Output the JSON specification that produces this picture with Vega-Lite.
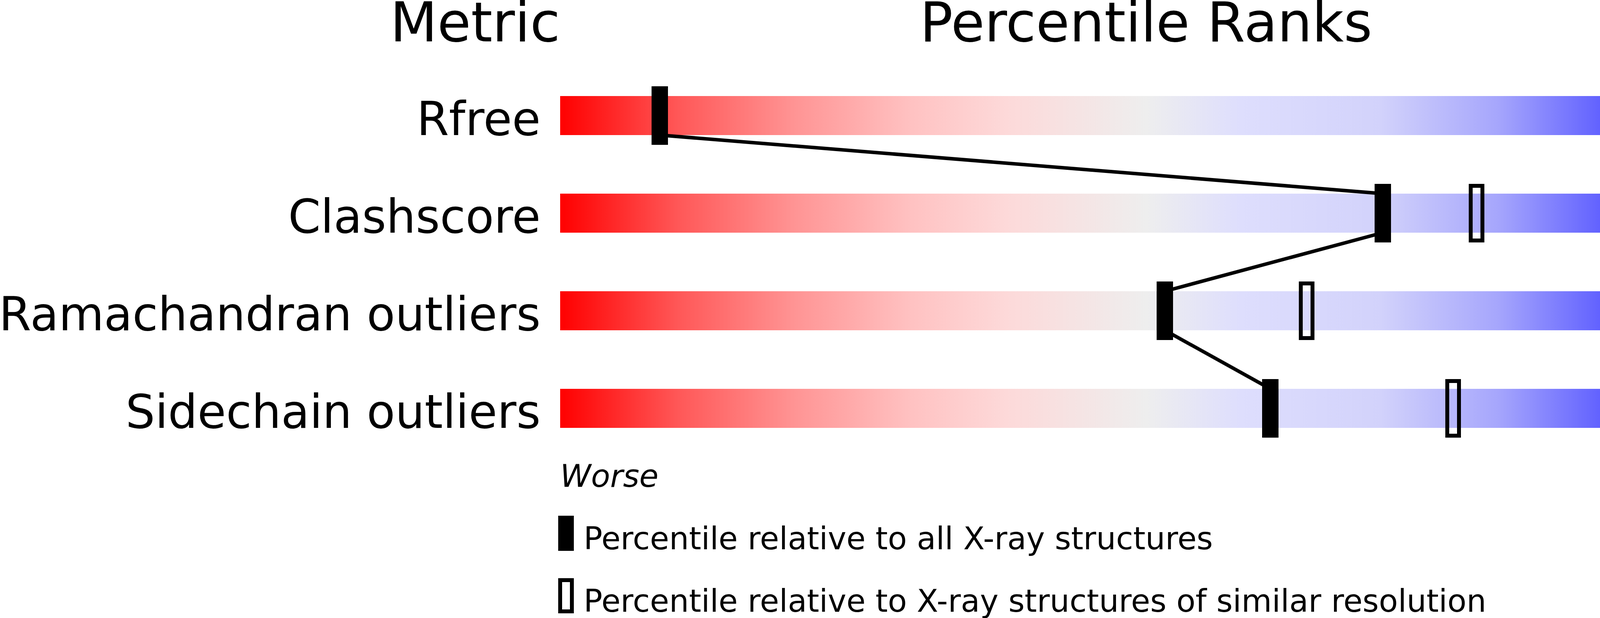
{
  "$schema": "https://vega.github.io/schema/vega-lite/v6.json",
  "width": 4823,
  "height": 1583,
  "autosize": "none",
  "padding": 0,
  "background": "white",
  "config": {"font": "DejaVu Sans", "view": {"stroke": null}},
  "datasets": {
    "metrics": [
      {"row": 0, "metric": "Rfree", "pct": 8.5, "pct_res": null, "value": "0.285"},
      {"row": 1, "metric": "Clashscore", "pct": 70.2, "pct_res": 78.2, "value": "4"},
      {"row": 2, "metric": "Ramachandran outliers", "pct": 51.6, "pct_res": 63.7, "value": "0.1%"},
      {"row": 3, "metric": "Sidechain outliers", "pct": 60.6, "pct_res": 76.2, "value": "1.7%"}
    ],
    "one": [{}]
  },
  "layer": [
    {
      "data": {"name": "metrics"},
      "mark": {
        "type": "rect",
        "opacity": 1,
        "yOffset": -50,
        "y2Offset": 50,
        "color": {
          "gradient": "linear",
          "x1": 0, "y1": 0, "x2": 1, "y2": 0,
          "stops": [
            {"offset": 0, "color": "#ff0000"},
            {"offset": 0.1, "color": "#ff5757"},
            {"offset": 0.2, "color": "#ff9494"},
            {"offset": 0.3, "color": "#ffc2c2"},
            {"offset": 0.38, "color": "#fdd9d9"},
            {"offset": 0.5, "color": "#eeeeee"},
            {"offset": 0.58, "color": "#dedefd"},
            {"offset": 0.7, "color": "#d2d2fb"},
            {"offset": 0.8, "color": "#a6a6fc"},
            {"offset": 0.9, "color": "#5858ff"},
            {"offset": 1, "color": "#0000ff"}
          ]
        }
      },
      "encoding": {
        "x": {"datum": 0, "type": "quantitative", "axis": null,
              "scale": {"domain": [-47.8, 112.9667], "nice": false, "zero": false}},
        "x2": {"datum": 100},
        "y": {"field": "row", "type": "quantitative", "axis": null,
              "scale": {"domain": [-1.184, 5.148], "reverse": true, "nice": false, "zero": false}},
        "y2": {"field": "row"}
      }
    },
    {
      "data": {"name": "metrics"},
      "transform": [
        {"window": [
          {"op": "lead", "field": "pct", "as": "next_pct"},
          {"op": "lead", "field": "row", "as": "next_row"}
        ], "sort": [{"field": "row"}]},
        {"filter": "datum.next_pct != null"}
      ],
      "mark": {"type": "rule", "color": "black", "strokeWidth": 9, "yOffset": 50, "y2Offset": -50},
      "encoding": {
        "x": {"field": "pct", "type": "quantitative"},
        "x2": {"field": "next_pct"},
        "y": {"field": "row", "type": "quantitative"},
        "y2": {"field": "next_row"}
      }
    },
    {
      "data": {"name": "metrics"},
      "mark": {"type": "rect", "color": "black", "opacity": 1,
               "xOffset": -21, "x2Offset": 21, "yOffset": -75, "y2Offset": 75},
      "encoding": {
        "x": {"field": "pct", "type": "quantitative"},
        "x2": {"field": "pct"},
        "y": {"field": "row", "type": "quantitative"},
        "y2": {"field": "row"}
      }
    },
    {
      "data": {"name": "metrics"},
      "transform": [{"filter": "datum.pct_res != null"}],
      "mark": {"type": "rect", "filled": false, "stroke": "black", "strokeWidth": 10, "opacity": 1,
               "xOffset": -15, "x2Offset": 15, "yOffset": -70, "y2Offset": 70},
      "encoding": {
        "x": {"field": "pct_res", "type": "quantitative"},
        "x2": {"field": "pct_res"},
        "y": {"field": "row", "type": "quantitative"},
        "y2": {"field": "row"}
      }
    },
    {
      "data": {"name": "metrics"},
      "mark": {"type": "text", "align": "right", "baseline": "alphabetic", "dx": -50, "dy": 50, "fontSize": 119, "color": "black"},
      "encoding": {
        "x": {"datum": 0, "type": "quantitative"},
        "y": {"field": "row", "type": "quantitative"},
        "text": {"field": "metric"}
      }
    },
    {
      "data": {"name": "metrics"},
      "mark": {"type": "text", "align": "left", "baseline": "alphabetic", "dx": 50, "dy": 50, "fontSize": 119, "color": "black"},
      "encoding": {
        "x": {"datum": 100, "type": "quantitative"},
        "y": {"field": "row", "type": "quantitative"},
        "text": {"field": "value"}
      }
    },
    {
      "data": {"name": "one"},
      "mark": {"type": "text", "text": "Metric", "align": "right", "baseline": "alphabetic", "fontSize": 140, "color": "black"},
      "encoding": {
        "x": {"datum": 0, "type": "quantitative"},
        "y": {"datum": -0.76, "type": "quantitative"}
      }
    },
    {
      "data": {"name": "one"},
      "mark": {"type": "text", "text": "Percentile Ranks", "align": "center", "baseline": "alphabetic", "fontSize": 140, "color": "black"},
      "encoding": {
        "x": {"datum": 50, "type": "quantitative"},
        "y": {"datum": -0.76, "type": "quantitative"}
      }
    },
    {
      "data": {"name": "one"},
      "mark": {"type": "text", "text": "Value", "align": "left", "baseline": "alphabetic", "fontSize": 140, "color": "black"},
      "encoding": {
        "x": {"datum": 100, "type": "quantitative"},
        "y": {"datum": -0.76, "type": "quantitative"}
      }
    },
    {
      "data": {"name": "one"},
      "mark": {"type": "text", "text": "Worse", "align": "left", "baseline": "alphabetic", "fontSize": 80, "fontStyle": "italic", "color": "black"},
      "encoding": {
        "x": {"datum": 0, "type": "quantitative"},
        "y": {"datum": 3.804, "type": "quantitative"}
      }
    },
    {
      "data": {"name": "one"},
      "mark": {"type": "text", "text": "Better", "align": "right", "baseline": "alphabetic", "fontSize": 80, "fontStyle": "italic", "color": "black"},
      "encoding": {
        "x": {"datum": 100, "type": "quantitative"},
        "y": {"datum": 3.804, "type": "quantitative"}
      }
    },
    {
      "data": {"name": "one"},
      "mark": {"type": "rect", "color": "black", "opacity": 1,
               "xOffset": -20, "x2Offset": 20, "yOffset": -45, "y2Offset": 45},
      "encoding": {
        "x": {"datum": 0.5, "type": "quantitative"},
        "x2": {"datum": 0.5},
        "y": {"datum": 4.28, "type": "quantitative"},
        "y2": {"datum": 4.28}
      }
    },
    {
      "data": {"name": "one"},
      "mark": {"type": "rect", "filled": false, "stroke": "black", "strokeWidth": 10, "opacity": 1,
               "xOffset": -15, "x2Offset": 15, "yOffset": -40, "y2Offset": 40},
      "encoding": {
        "x": {"datum": 0.5, "type": "quantitative"},
        "x2": {"datum": 0.5},
        "y": {"datum": 4.92, "type": "quantitative"},
        "y2": {"datum": 4.92}
      }
    },
    {
      "data": {"name": "one"},
      "mark": {"type": "text", "text": "Percentile relative to all X-ray structures", "align": "left", "baseline": "alphabetic", "fontSize": 80, "color": "black"},
      "encoding": {
        "x": {"datum": 2, "type": "quantitative"},
        "y": {"datum": 4.444, "type": "quantitative"}
      }
    },
    {
      "data": {"name": "one"},
      "mark": {"type": "text", "text": "Percentile relative to X-ray structures of similar resolution", "align": "left", "baseline": "alphabetic", "fontSize": 80, "color": "black"},
      "encoding": {
        "x": {"datum": 2, "type": "quantitative"},
        "y": {"datum": 5.084, "type": "quantitative"}
      }
    }
  ]
}
